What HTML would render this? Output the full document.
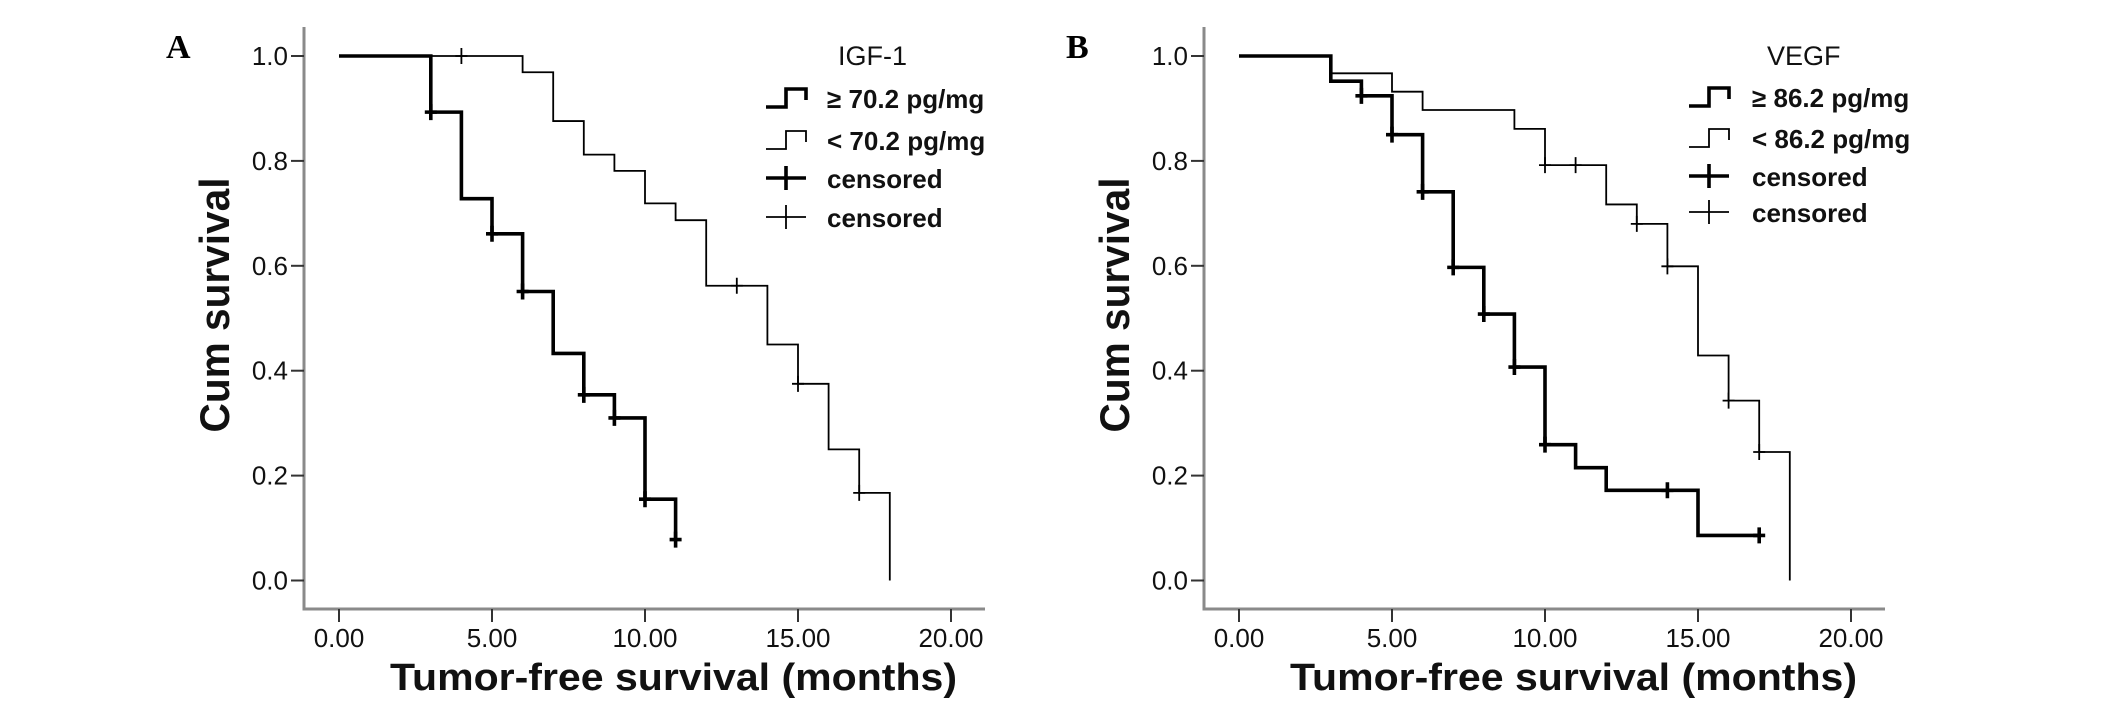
<!DOCTYPE html>
<html><head><meta charset="utf-8"><style>
html,body{margin:0;padding:0;background:#fff;}
svg{display:block;font-family:"Liberation Sans",Arial,sans-serif;}
</style></head><body>
<svg id="chart" width="2126" height="707" viewBox="0 0 2126 707" xmlns="http://www.w3.org/2000/svg"></svg>
<script>
// ---- Panel A data (IGF-1) ----
const aHighTimes = [0, 3, 4, 5, 6, 7, 8, 9, 10, 11];
const aHighSurv  = [1.0, 0.893, 0.728, 0.661, 0.551, 0.433, 0.354, 0.310, 0.155, 0.078];
const aHighCens  = [3, 5, 6, 8, 9, 10, 11];
const aLowTimes  = [0, 6, 7, 8, 9, 10, 11, 12, 14, 15, 16, 17, 18];
const aLowSurv   = [1.0, 0.969, 0.876, 0.812, 0.781, 0.719, 0.687, 0.562, 0.450, 0.375, 0.250, 0.167, 0.0];
const aLowCens   = [4, 13, 15, 17];
// ---- Panel B data (VEGF) ----
const bHighTimes = [0, 3, 4, 5, 6, 7, 8, 9, 10, 11, 12, 15, 17];
const bHighSurv  = [1.0, 0.952, 0.924, 0.850, 0.741, 0.597, 0.508, 0.407, 0.259, 0.215, 0.172, 0.086, 0.086];
const bHighCens  = [4, 5, 6, 7, 8, 9, 10, 14, 17];
const bLowTimes  = [0, 3, 5, 6, 9, 10, 12, 13, 14, 15, 16, 17, 18];
const bLowSurv   = [1.0, 0.967, 0.932, 0.897, 0.861, 0.792, 0.717, 0.680, 0.599, 0.429, 0.343, 0.245, 0.0];
const bLowCens   = [10, 11, 13, 14, 16, 17];
// ---- axis ticks ----
const xTicks = [0, 5, 10, 15, 20];
const xTickLabels = ["0.00", "5.00", "10.00", "15.00", "20.00"];
const yTicks = [0, 0.2, 0.4, 0.6, 0.8, 1.0];
const yTickLabels = ["0.0", "0.2", "0.4", "0.6", "0.8", "1.0"];

const NS = "http://www.w3.org/2000/svg";
const svg = document.getElementById("chart");
function mk(tag, attrs, parent, text) {
  const e = document.createElementNS(NS, tag);
  for (const k in attrs) e.setAttribute(k, attrs[k]);
  if (text !== undefined) e.textContent = text;
  (parent || svg).appendChild(e);
  return e;
}

function panel(cfg) {
  const g = mk("g", {});
  
  
  const ox = cfg.ox;
  const axX = 1204 + ox, axTop = 27, axY = 609, axRight = 1885 + ox;
  const x0 = 1239 + ox, xPer = (1851 - 1239) / 20;
  const y0 = 580.5, y1 = 56;
  const xs = v => x0 + v * xPer;
  const ys = v => y0 + (y1 - y0) * v;

  // axes
  const yAxis = mk("line", {x1: axX, y1: axTop, x2: axX, y2: axY, stroke: "#8a8a8a", "stroke-width": 3}, g);
  
  
  const xAxis = mk("line", {x1: axX - 1.5, y1: axY, x2: axRight, y2: axY, stroke: "#8a8a8a", "stroke-width": 3}, g);
  
  

  yTicks.forEach((v, i) => {
    mk("line", {x1: axX - 13, y1: ys(v), x2: axX, y2: ys(v), stroke: "#333", "stroke-width": 2}, g);
    const t = mk("text", {x: axX - 16, y: ys(v) + 9, "text-anchor": "end", "font-size": 26, fill: "#111"}, g, yTickLabels[i]);
    
    
  });
  xTicks.forEach((v, i) => {
    mk("line", {x1: xs(v), y1: axY, x2: xs(v), y2: axY + 13, stroke: "#333", "stroke-width": 2}, g);
    const t = mk("text", {x: xs(v), y: 647, "text-anchor": "middle", "font-size": 26, fill: "#111"}, g, xTickLabels[i]);
    
    
  });

  const xt = mk("text", {x: 1290 + ox, y: 690, "font-size": 38, "font-weight": "bold", textLength: 567, lengthAdjust: "spacingAndGlyphs", fill: "#111"}, g, "Tumor-free survival (months)");
  
  
  const yt = mk("text", {x: 0, y: 0, "font-size": 42, "font-weight": "bold", "text-anchor": "middle", textLength: 255, lengthAdjust: "spacingAndGlyphs", fill: "#111", transform: `translate(${1129 + ox},305) rotate(-90)`}, g, "Cum survival");
  
  

  const pl = mk("text", {x: 1066 + ox, y: 58, "font-size": 34, "font-weight": "bold", "font-family": "Liberation Serif, serif", fill: "#000"}, g, cfg.letter);
  
  

  // curves
  function curve(times, surv, cens, w, name) {
    let d = `M${xs(times[0])},${ys(surv[0])}`;
    for (let i = 1; i < times.length; i++) {
      d += ` H${xs(times[i])} V${ys(surv[i])}`;
    }
    const p = mk("path", {d: d, fill: "none", stroke: "#000", "stroke-width": w, "stroke-linejoin": "miter"}, g);
    
    
    cens.forEach(c => {
      let k = 0;
      for (let i = 0; i < times.length; i++) if (times[i] <= c) k = i;
      const cx = xs(c), cy = ys(surv[k]);
      const m = mk("path", {d: `M${cx},${cy - 8} V${cy + 8} M${cx - 6},${cy} H${cx + 6}`, stroke: "#000", "stroke-width": w, fill: "none"}, g);
      
      
    });
  }
  curve(cfg.lowT, cfg.lowS, cfg.lowC, 1.8, 'low-group-curve');
  curve(cfg.highT, cfg.highS, cfg.highC, 3.6, 'high-group-curve');

  // legend
  const lg = mk("g", {}, g);
  
  
  const lx = cfg.lx, tx = cfg.tx;
  const lt = mk("text", {x: cfg.titleX, y: 65, "font-size": 27, fill: "#111"}, lg, cfg.title);
  
  
  const rows = cfg.rows;
  const labels = [cfg.hiLabel, cfg.loLabel, "censored", "censored"];
  rows.forEach((ry, i) => {
    const w = (i % 2 === 0) ? 3.6 : 1.8;
    let d;
    if (i < 2) d = `M${lx},${ry + 9} H${lx + 20} V${ry - 9} H${lx + 40} V${ry + 2}`;
    else d = `M${lx},${ry} H${lx + 40} M${lx + 20},${ry - 12} V${ry + 12}`;
    const s = mk("path", {d: d, fill: "none", stroke: "#000", "stroke-width": w}, lg);
    
    
    const t = mk("text", {x: tx, y: ry + 10, "font-size": 26, "font-weight": "bold", fill: "#111"}, lg, labels[i]);
    
    
  });
}

panel({name: 'panel-a-igf1', ox: -900, letter: "A",
  highT: aHighTimes, highS: aHighSurv, highC: aHighCens,
  lowT: aLowTimes, lowS: aLowSurv, lowC: aLowCens,
  lx: 766, tx: 827, titleX: 838, title: "IGF-1",
  rows: [98, 140, 178, 217], hiLabel: "\u2265 70.2 pg/mg", loLabel: "< 70.2 pg/mg"});
panel({name: 'panel-b-vegf', ox: 0, letter: "B",
  highT: bHighTimes, highS: bHighSurv, highC: bHighCens,
  lowT: bLowTimes, lowS: bLowSurv, lowC: bLowCens,
  lx: 1689, tx: 1752, titleX: 1767, title: "VEGF",
  rows: [97, 138, 176, 212], hiLabel: "\u2265 86.2 pg/mg", loLabel: "< 86.2 pg/mg"});
</script>
</body></html>
